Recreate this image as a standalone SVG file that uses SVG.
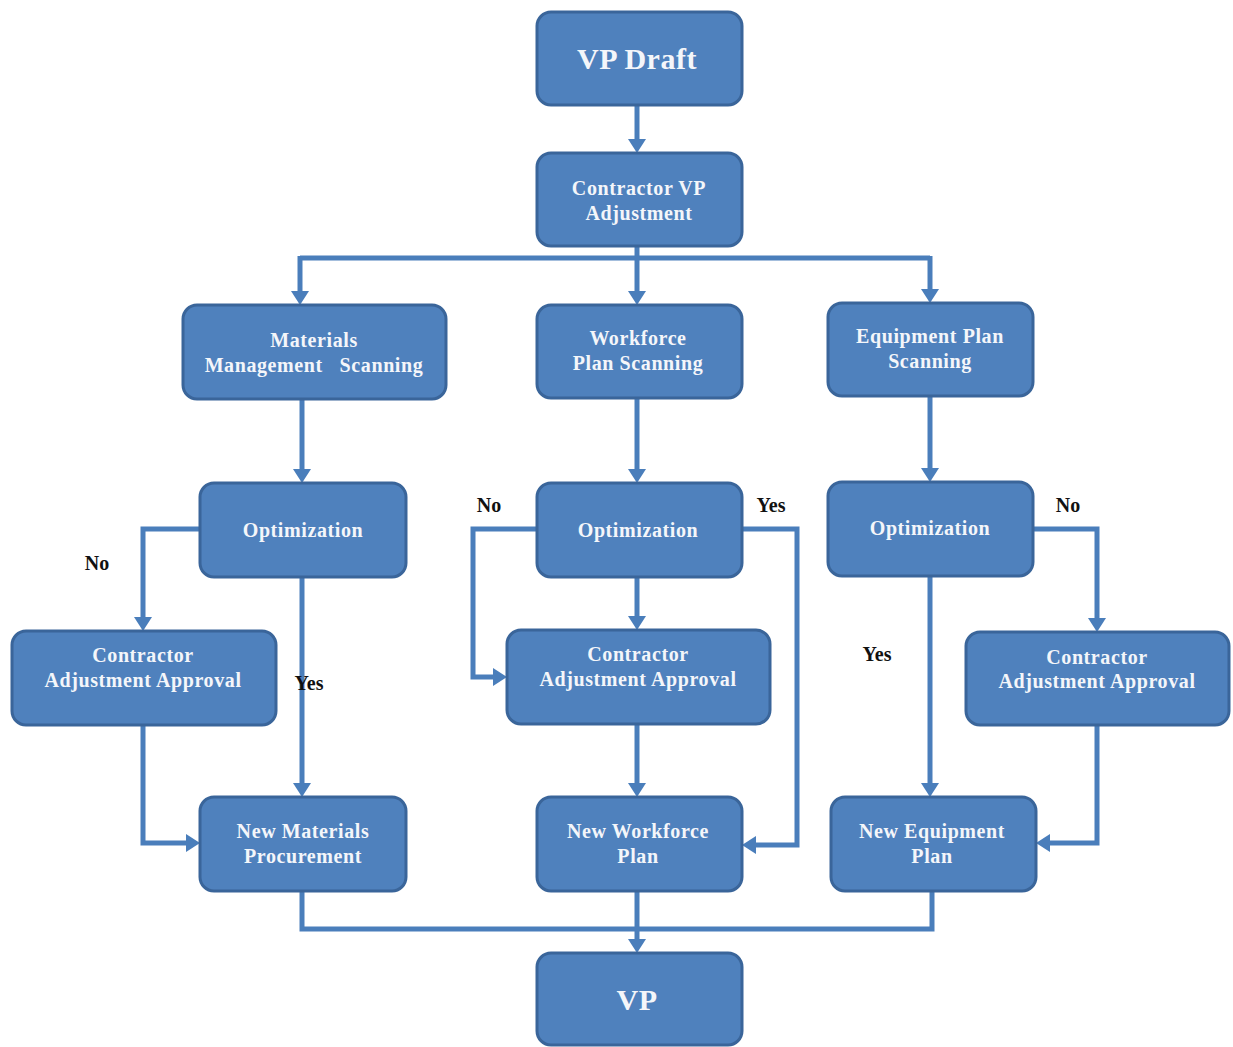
<svg xmlns="http://www.w3.org/2000/svg" width="1233" height="1047" viewBox="0 0 1233 1047">
  <style>
    .box { fill: #4F81BD; stroke: #3A659A; stroke-width: 3; }
    .t { font-family: 'Liberation Serif', 'DejaVu Serif', serif; font-weight: bold; fill: #F4F6FA; text-anchor: middle; font-size: 20px; letter-spacing: 0.6px; }
    .big { font-size: 30px; letter-spacing: 0.5px; }
    .lbl { font-family: 'Liberation Serif', 'DejaVu Serif', serif; font-weight: bold; fill: #111; font-size: 20px; text-anchor: middle; }
    .c { fill: none; stroke: #4A7EBB; stroke-width: 5; stroke-linejoin: miter; }
  </style>
  <defs>
    <!-- arrowhead base sits at the path end, tip reaches 14px further -->
    <marker id="arrow" viewBox="0 0 14 18" refX="0" refY="9" markerWidth="14" markerHeight="18" markerUnits="userSpaceOnUse" orient="auto">
      <path d="M0,0 L14,9 L0,18 Z" fill="#4A7EBB"/>
    </marker>
  </defs>

  <rect width="1233" height="1047" fill="#FFFFFF"/>

  <!-- connectors -->
  <g id="connectors">
    <path class="c" d="M637,105 V139" marker-end="url(#arrow)"/>
    <path class="c" d="M637,246 V258"/>
    <path class="c" d="M300,258 H930"/>
    <path class="c" d="M300,256 V291" marker-end="url(#arrow)"/>
    <path class="c" d="M637,256 V291" marker-end="url(#arrow)"/>
    <path class="c" d="M930,256 V289" marker-end="url(#arrow)"/>

    <path class="c" d="M302,399 V469" marker-end="url(#arrow)"/>
    <path class="c" d="M637,398 V469" marker-end="url(#arrow)"/>
    <path class="c" d="M930,396 V468" marker-end="url(#arrow)"/>

    <!-- left column -->
    <path class="c" d="M200,529 H143 V617" marker-end="url(#arrow)"/>
    <path class="c" d="M302,577 V783" marker-end="url(#arrow)"/>
    <path class="c" d="M143,725 V843 H186" marker-end="url(#arrow)"/>

    <!-- middle column -->
    <path class="c" d="M537,529 H473 V677 H493" marker-end="url(#arrow)"/>
    <path class="c" d="M637,577 V616" marker-end="url(#arrow)"/>
    <path class="c" d="M742,529 H797 V845 H756" marker-end="url(#arrow)"/>
    <path class="c" d="M637,724 V783" marker-end="url(#arrow)"/>

    <!-- right column -->
    <path class="c" d="M1033,529 H1097 V618" marker-end="url(#arrow)"/>
    <path class="c" d="M930,576 V783" marker-end="url(#arrow)"/>
    <path class="c" d="M1097,725 V843 H1050" marker-end="url(#arrow)"/>

    <!-- merge into final plan -->
    <path class="c" d="M302,891 V929 H932 V891"/>
    <path class="c" d="M637,891 V939" marker-end="url(#arrow)"/>
  </g>

  <!-- branch labels -->
  <g id="labels">
    <text class="lbl" x="97" y="570">No</text>
    <text class="lbl" x="309" y="690">Yes</text>
    <text class="lbl" x="489" y="512">No</text>
    <text class="lbl" x="771" y="512">Yes</text>
    <text class="lbl" x="1068" y="512">No</text>
    <text class="lbl" x="877" y="661">Yes</text>
  </g>

  <g id="vp-draft">
    <rect class="box" x="537" y="12" width="205" height="93" rx="14"/>
    <text class="t big" x="637" y="69">VP Draft</text>
  </g>
  <g id="contractor-vp-adjustment">
    <rect class="box" x="537" y="153" width="205" height="93" rx="14"/>
    <text class="t" x="639" y="195">Contractor VP</text>
    <text class="t" x="639" y="220">Adjustment</text>
  </g>

  <g id="materials-scanning">
    <rect class="box" x="183" y="305" width="263" height="94" rx="14"/>
    <text class="t" x="314" y="347">Materials</text>
    <text class="t" x="314" y="372" xml:space="preserve">Management   Scanning</text>
  </g>
  <g id="workforce-scanning">
    <rect class="box" x="537" y="305" width="205" height="93" rx="14"/>
    <text class="t" x="638" y="345">Workforce</text>
    <text class="t" x="638" y="370">Plan Scanning</text>
  </g>
  <g id="equipment-scanning">
    <rect class="box" x="828" y="303" width="205" height="93" rx="14"/>
    <text class="t" x="930" y="343">Equipment Plan</text>
    <text class="t" x="930" y="368">Scanning</text>
  </g>

  <g id="optimization-materials">
    <rect class="box" x="200" y="483" width="206" height="94" rx="14"/>
    <text class="t" x="303" y="537">Optimization</text>
  </g>
  <g id="optimization-workforce">
    <rect class="box" x="537" y="483" width="205" height="94" rx="14"/>
    <text class="t" x="638" y="537">Optimization</text>
  </g>
  <g id="optimization-equipment">
    <rect class="box" x="828" y="482" width="205" height="94" rx="14"/>
    <text class="t" x="930" y="535">Optimization</text>
  </g>

  <g id="approval-materials">
    <rect class="box" x="12" y="631" width="264" height="94" rx="14"/>
    <text class="t" x="143" y="662">Contractor</text>
    <text class="t" x="143" y="687">Adjustment Approval</text>
  </g>
  <g id="approval-workforce">
    <rect class="box" x="507" y="630" width="263" height="94" rx="14"/>
    <text class="t" x="638" y="661">Contractor</text>
    <text class="t" x="638" y="686">Adjustment Approval</text>
  </g>
  <g id="approval-equipment">
    <rect class="box" x="966" y="632" width="263" height="93" rx="14"/>
    <text class="t" x="1097" y="664">Contractor</text>
    <text class="t" x="1097" y="688">Adjustment Approval</text>
  </g>

  <g id="new-materials">
    <rect class="box" x="200" y="797" width="206" height="94" rx="14"/>
    <text class="t" x="303" y="838">New Materials</text>
    <text class="t" x="303" y="863">Procurement</text>
  </g>
  <g id="new-workforce">
    <rect class="box" x="537" y="797" width="205" height="94" rx="14"/>
    <text class="t" x="638" y="838">New Workforce</text>
    <text class="t" x="638" y="863">Plan</text>
  </g>
  <g id="new-equipment">
    <rect class="box" x="831" y="797" width="205" height="94" rx="14"/>
    <text class="t" x="932" y="838">New Equipment</text>
    <text class="t" x="932" y="863">Plan</text>
  </g>

  <g id="vp">
    <rect class="box" x="537" y="953" width="205" height="92" rx="14"/>
    <text class="t big" x="637" y="1010">VP</text>
  </g>
</svg>
